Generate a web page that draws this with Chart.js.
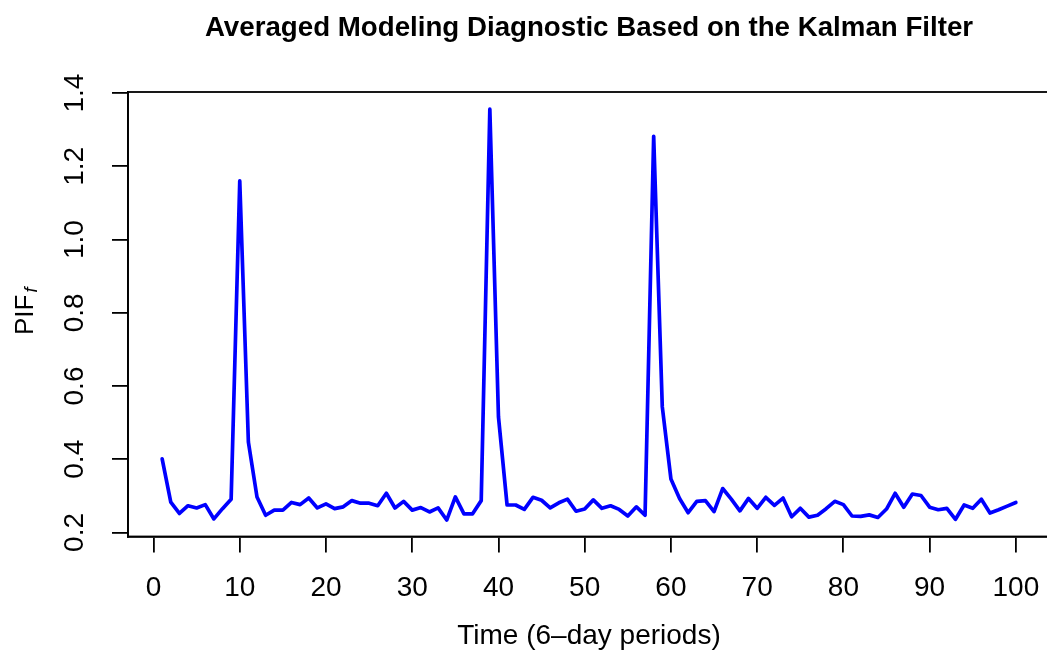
<!DOCTYPE html>
<html>
<head>
<meta charset="utf-8">
<title>Averaged Modeling Diagnostic</title>
<script src="https://cdn.jsdelivr.net/npm/chart.js@4/dist/chart.umd.min.js"></script>
<style>
  html, body { margin: 0; padding: 0; background: #fff; overflow: hidden; }
  #wrap { width: 1050px; height: 654px; }
</style>
</head>
<body>
<div id="wrap"><canvas id="chart"></canvas></div>
<script>
const TITLE = "Averaged Modeling Diagnostic Based on the Kalman Filter";
const X_LABEL = "Time (6\u2013day periods)";

const PERIODS = [
  1, 2, 3, 4, 5, 6, 7, 8, 9, 10, 11, 12, 13, 14, 15, 16, 17, 18, 19, 20,
  21, 22, 23, 24, 25, 26, 27, 28, 29, 30, 31, 32, 33, 34, 35, 36, 37, 38, 39, 40,
  41, 42, 43, 44, 45, 46, 47, 48, 49, 50, 51, 52, 53, 54, 55, 56, 57, 58, 59, 60,
  61, 62, 63, 64, 65, 66, 67, 68, 69, 70, 71, 72, 73, 74, 75, 76, 77, 78, 79, 80,
  81, 82, 83, 84, 85, 86, 87, 88, 89, 90, 91, 92, 93, 94, 95, 96, 97, 98, 99, 100,
];

const PIF = [
  0.401, 0.283, 0.252, 0.273, 0.267, 0.276, 0.237, 0.265, 0.291, 1.160,
  0.447, 0.297, 0.247, 0.261, 0.261, 0.282, 0.276, 0.294, 0.267, 0.278,
  0.265, 0.270, 0.287, 0.280, 0.280, 0.273, 0.307, 0.267, 0.285, 0.261,
  0.268, 0.256, 0.267, 0.234, 0.297, 0.251, 0.251, 0.287, 1.356, 0.516,
  0.275, 0.275, 0.263, 0.296, 0.288, 0.267, 0.281, 0.291, 0.258, 0.264,
  0.289, 0.266, 0.273, 0.263, 0.245, 0.270, 0.247, 1.282, 0.543, 0.346,
  0.293, 0.254, 0.285, 0.287, 0.257, 0.320, 0.291, 0.259, 0.293, 0.266,
  0.296, 0.274, 0.294, 0.243, 0.266, 0.242, 0.247, 0.265, 0.285, 0.276,
  0.245, 0.244, 0.248, 0.241, 0.264, 0.307, 0.269, 0.305, 0.301, 0.269,
  0.262, 0.266, 0.236, 0.275, 0.266, 0.291, 0.253, 0.262, 0.272, 0.282,
];

const X_TICKS = [0, 10, 20, 30, 40, 50, 60, 70, 80, 90, 100];
const Y_TICKS = [0.2, 0.4, 0.6, 0.8, 1.0, 1.2, 1.4];

const FONT = "'Liberation Sans', Arial, Helvetica, sans-serif";
const INK = "#000";

function el(id) {
  return document.getElementById(id);
}

// R-style box + text, placed with the chart's own scales
const rAxes = {
  id: "rAxes",
  afterDraw(chart) {
    const { ctx, chartArea: a, scales } = chart;
    const xs = scales.x;
    const ys = scales.y;
    const cx = (a.left + a.right) / 2;

    ctx.save();
    ctx.strokeStyle = INK;
    ctx.lineWidth = 1.8;
    ctx.strokeRect(a.left, a.top, a.right - a.left, a.bottom - a.top);

    ctx.fillStyle = INK;
    ctx.textAlign = "center";
    ctx.textBaseline = "middle";

    ctx.font = `bold 27.7px ${FONT}`;
    ctx.fillText(TITLE, cx, 28);

    ctx.font = `28px ${FONT}`;
    for (const v of X_TICKS) {
      ctx.fillText(String(v), xs.getPixelForValue(v), 588);
    }
    ctx.fillText(X_LABEL, cx, 636);

    for (const v of Y_TICKS) {
      ctx.save();
      ctx.translate(75, ys.getPixelForValue(v));
      ctx.rotate(-Math.PI / 2);
      ctx.fillText(v.toFixed(1), 0, 0);
      ctx.restore();
    }

    // PIF with italic subscript f
    ctx.save();
    ctx.font = `26px ${FONT}`;
    const wMain = ctx.measureText("PIF").width;
    ctx.font = `italic 18px ${FONT}`;
    const wSub = ctx.measureText("f").width;
    const total = wMain + 2 + wSub;
    const midY = (a.top + a.bottom) / 2 - 3;
    ctx.translate(33, midY + total / 2);
    ctx.rotate(-Math.PI / 2);
    ctx.textAlign = "left";
    ctx.textBaseline = "alphabetic";
    ctx.font = `26px ${FONT}`;
    ctx.fillText("PIF", 0, 0);
    ctx.font = `italic 18px ${FONT}`;
    ctx.fillText("f", wMain + 2, 4);
    ctx.restore();

    ctx.restore();
  },
};

function buildChart() {
  const points = PERIODS.map((t, i) => ({ x: t, y: PIF[i] }));

  return new Chart(el("chart"), {
    type: "line",
    data: {
      datasets: [
        {
          data: points,
          borderColor: "#0000ff",
          borderWidth: 3.7,
          borderJoinStyle: "round",
          borderCapStyle: "round",
          pointRadius: 0,
          tension: 0,
          fill: false,
        },
      ],
    },
    options: {
      responsive: true,
      maintainAspectRatio: false,
      animation: false,
      layout: { padding: { top: 92, left: 0, right: 0, bottom: 0 } },
      plugins: {
        legend: { display: false },
        title: { display: false },
        tooltip: { enabled: false },
      },
      scales: {
        x: {
          type: "linear",
          min: -2.96,
          max: 103.96,
          afterBuildTicks: (s) => {
            s.ticks = X_TICKS.map((v) => ({ value: v }));
          },
          afterFit: (s) => {
            s.height = 117.5;
          },
          ticks: { display: false },
          grid: {
            drawOnChartArea: false,
            drawTicks: true,
            tickLength: 16,
            color: INK,
            lineWidth: 1.8,
          },
          border: { display: true, color: INK, width: 1.8 },
        },
        y: {
          type: "linear",
          min: 0.189,
          max: 1.403,
          afterBuildTicks: (s) => {
            s.ticks = Y_TICKS.map((v) => ({ value: v }));
          },
          afterFit: (s) => {
            s.width = 128;
          },
          ticks: { display: false },
          grid: {
            drawOnChartArea: false,
            drawTicks: true,
            tickLength: 16,
            color: INK,
            lineWidth: 1.8,
          },
          border: { display: true, color: INK, width: 1.8 },
        },
      },
    },
    plugins: [rAxes],
  });
}

buildChart();
</script>
</body>
</html>
